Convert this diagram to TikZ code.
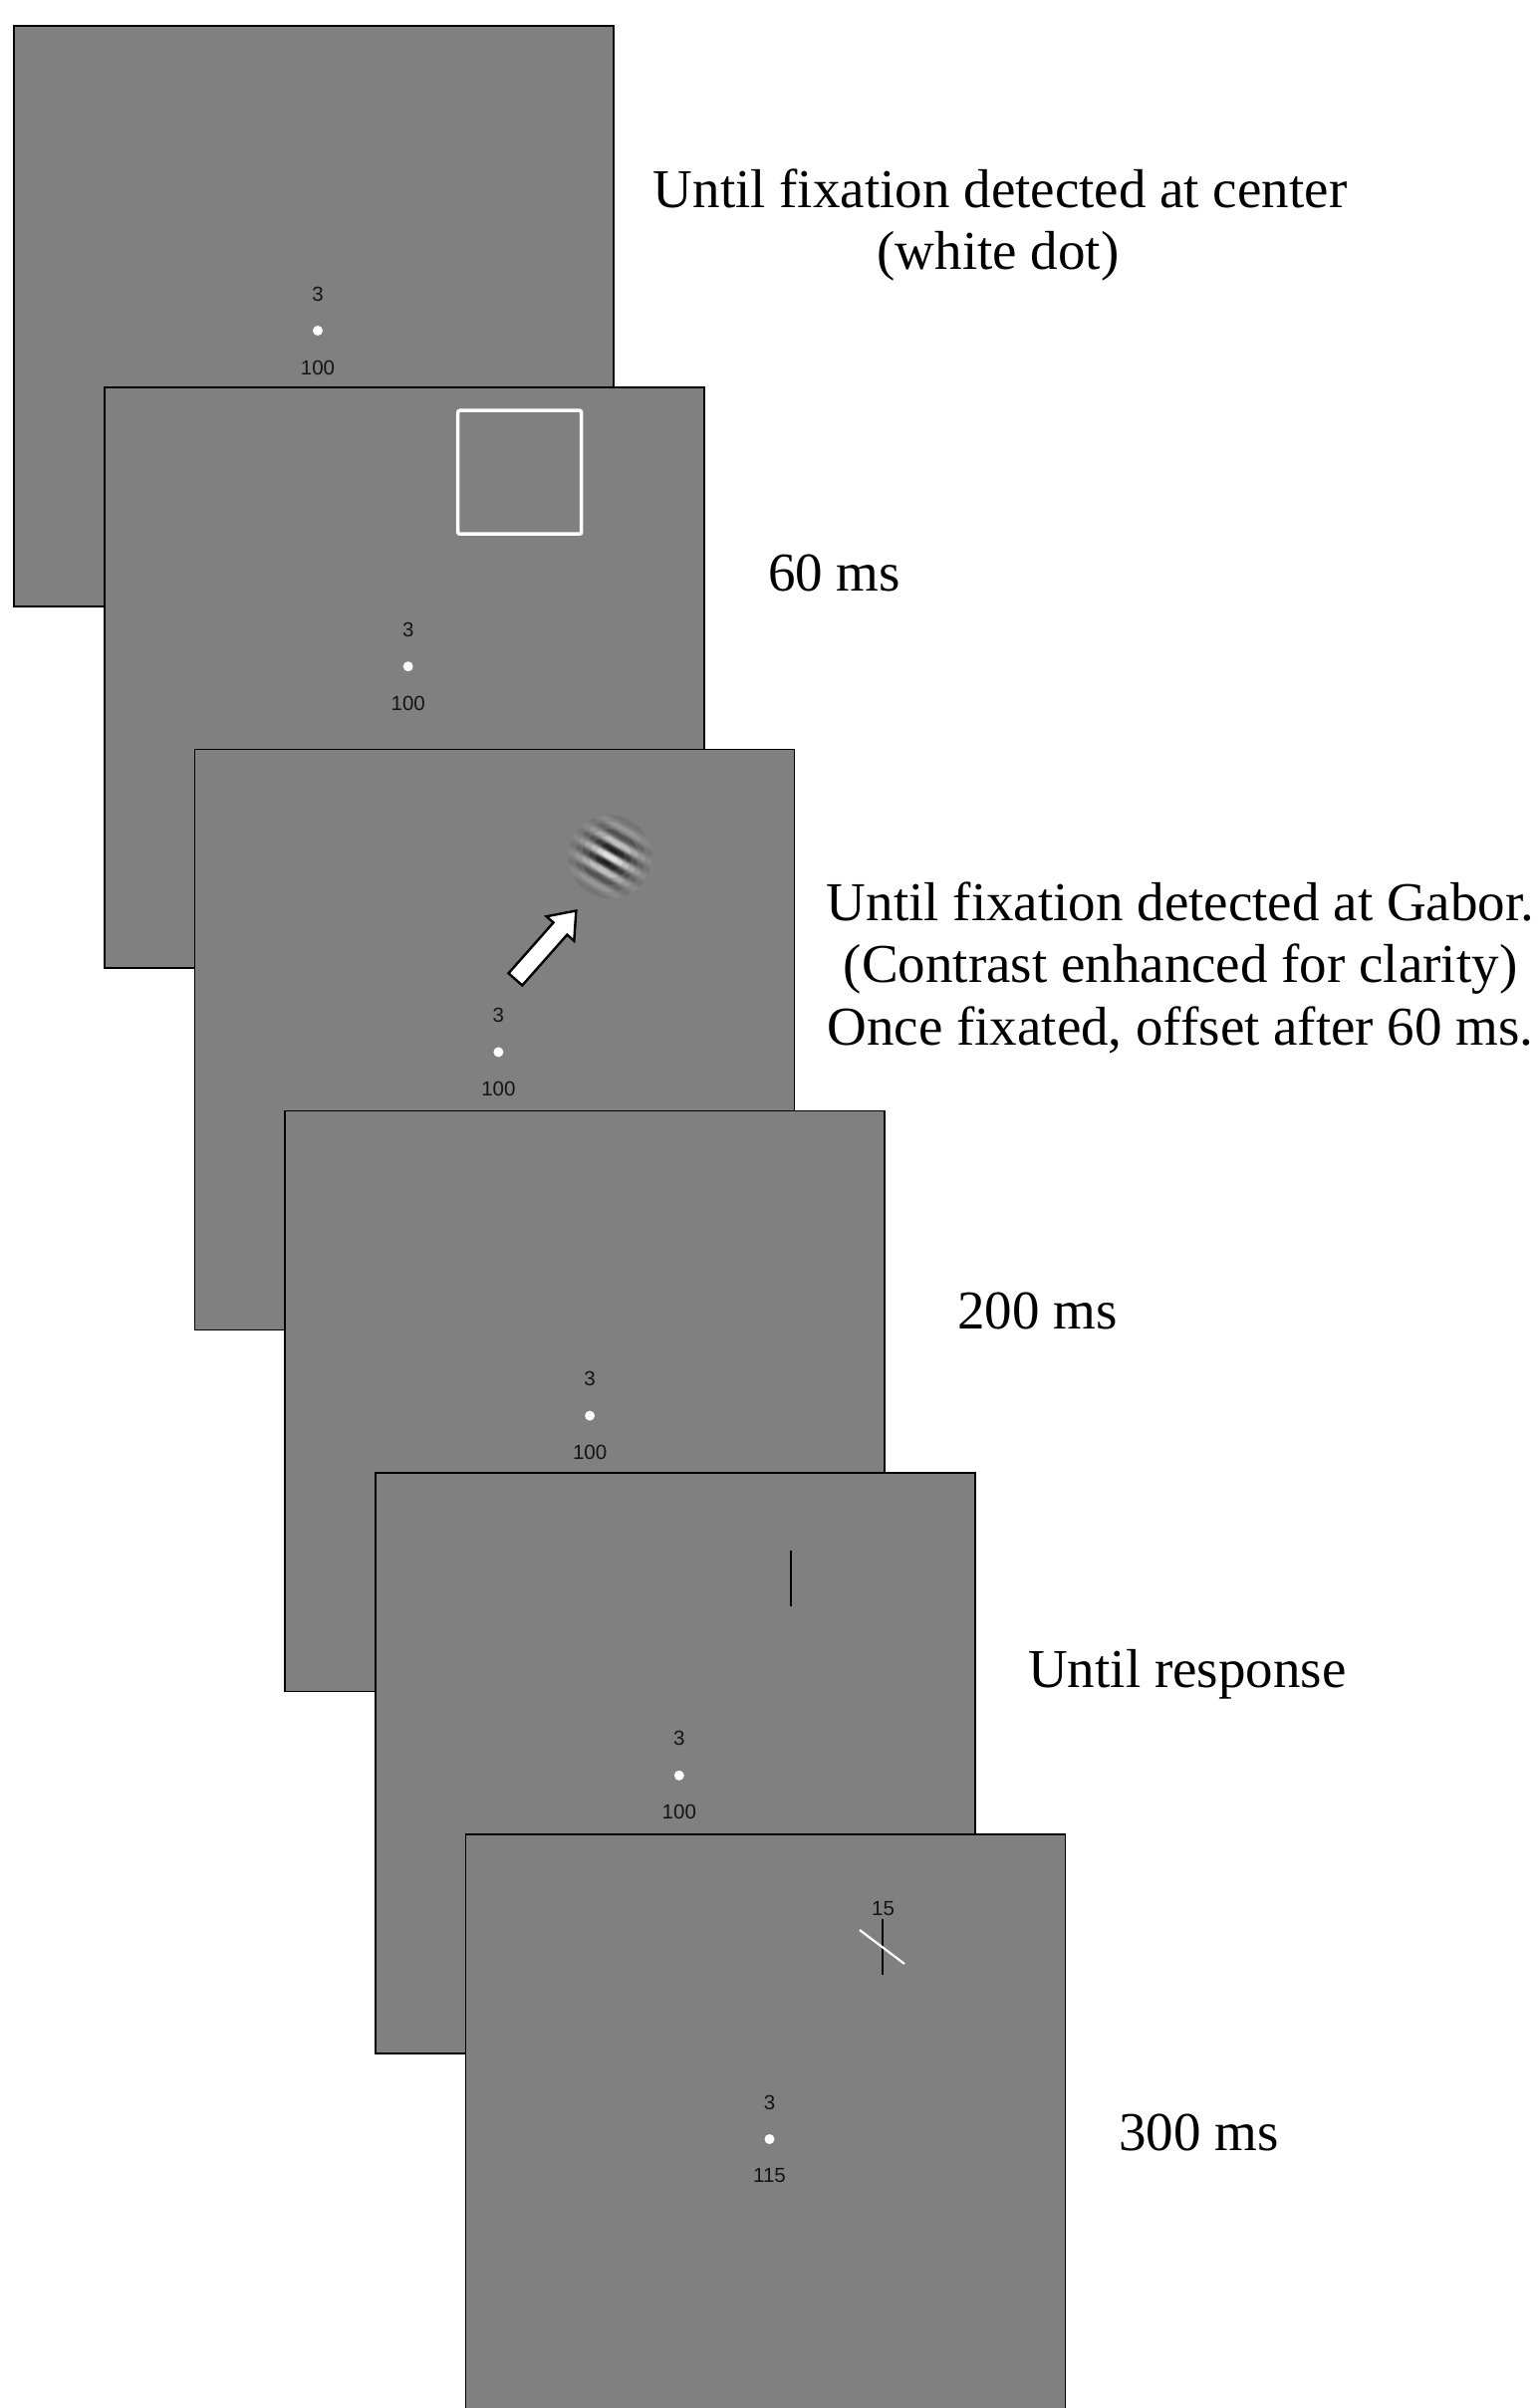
\documentclass[tikz,border=0pt]{standalone}
\usepackage{fontspec}
\setmainfont{Liberation Serif}
\newfontfamily\numfont{Liberation Sans}
\definecolor{panelgray}{RGB}{128,128,128}
\tikzset{
  panel/.style={draw=black, line width=1.6pt, fill=panelgray, minimum width=602pt,
    minimum height=583pt, inner sep=0pt, outer sep=0pt, anchor=north west},
  num/.style={font=\numfont\fontsize{20.5}{24}\selectfont, inner sep=0pt, text=black!92},
  fixdot/.style={circle, fill=white, minimum size=10pt, inner sep=0pt},
  caption/.style={font=\fontsize{55}{62.5}\selectfont, inner sep=0pt, text=black},
  fixation/.pic={
    \node[num] (-top) at (0,-37) {3};
    \node[fixdot] (-dot) at (0,0) {};
    \node[num] (-bot) at (0,37) {#1};
  },
  whiteline/.style={draw=white, line width=3.5pt},
  blackline/.style={draw=black, line width=2.6pt},
}
\begin{document}
\begin{tikzpicture}[x=1pt,y=-1pt]
\useasboundingbox (0,0) rectangle (1545,2418);
\clip (0,0) rectangle (1545,2418);

% panel 1
\node[panel] (p1) at (14,26) {};
\begin{scope}[shift={(p1.north west)}]
  \pic (f1) at (305,306) {fixation=100};
\end{scope}

% panel 2
\node[panel] (p2) at (104.7,389.2) {};
\begin{scope}[shift={(p2.north west)}]
  \draw[whiteline, rounded corners=2pt] (355,23) rectangle (479,147);
  \pic (f2) at (305,280) {fixation=100};
\end{scope}

% panel 3
\node[panel] (p3) at (195.4,752.4) {};
\begin{scope}[shift={(p3.north west)}]
  \begin{scope}[shift={(417,108)}, rotate=-30]
    \foreach \R/\op in {42/0.08, 35/0.12, 28/0.18, 21/0.26, 14/0.34, 8/0.34} {
      \begin{scope}
        \clip (0,0) circle (\R);
        \foreach \d in {-42,-40.5,...,42} {
          \pgfmathsetmacro\cval{cos(360*\d/15.5)}
          \pgfmathsetmacro\aval{abs(\cval)*\op}
          \ifdim \cval pt < 0pt \def\gcol{black}\else\def\gcol{white}\fi
          \fill[\gcol, fill opacity=\aval] (-45,\d-0.75) rectangle (45,\d+0.75);
        }
      \end{scope}
    }
  \end{scope}
  \begin{scope}[shift={(322,231)}, rotate=48.5]
    \draw[fill=white, line width=2.4pt, line join=miter]
      (0,-9.2) -- (68,-9.2) -- (68,-18.5) -- (92,0) -- (68,18.5) -- (68,9.2) -- (0,9.2) -- cycle;
  \end{scope}
  \pic (f3) at (305,304) {fixation=100};
\end{scope}

% panel 4
\node[panel] (p4) at (286.1,1115.6) {};
\begin{scope}[shift={(p4.north west)}]
  \pic (f4) at (306,306) {fixation=100};
\end{scope}

% panel 5
\node[panel] (p5) at (376.8,1478.8) {};
\begin{scope}[shift={(p5.north west)}]
  \draw[blackline] (417,78) -- (417,134);
  \pic (f5) at (305,304) {fixation=100};
\end{scope}

% panel 6
\node[panel] (p6) at (467.5,1842) {};
\begin{scope}[shift={(p6.north west)}]
  \node[num] (deg) at (419,75) {15};
  \draw[draw=black, line width=2.2pt] (418.5,85) -- (418.5,141);
  \draw[draw=white, line width=2.2pt] (395.5,96) -- (440.5,130);
  \pic (f6) at (305,306) {fixation=115};
\end{scope}

% captions
\node[caption, anchor=base] (t1a) at (1004,208) {Until fixation detected at center};
\node[caption, anchor=base] (t1b) at (1002,270.5) {(white dot)};
\node[caption, anchor=base west] (t2) at (771,593) {60 ms};
\node[caption, anchor=base] (t3a) at (1185,924) {Until fixation detected at Gabor.};
\node[caption, anchor=base] (t3b) at (1185,986.5) {(Contrast enhanced for clarity)};
\node[caption, anchor=base] (t3c) at (1185,1049) {Once fixated, offset after 60 ms.};
\node[caption, anchor=base west] (t4) at (961,1334) {200 ms};
\node[caption, anchor=base west] (t5) at (1032,1694) {Until response};
\node[caption, anchor=base west] (t6) at (1123,2159) {300 ms};
\end{tikzpicture}
\end{document}
